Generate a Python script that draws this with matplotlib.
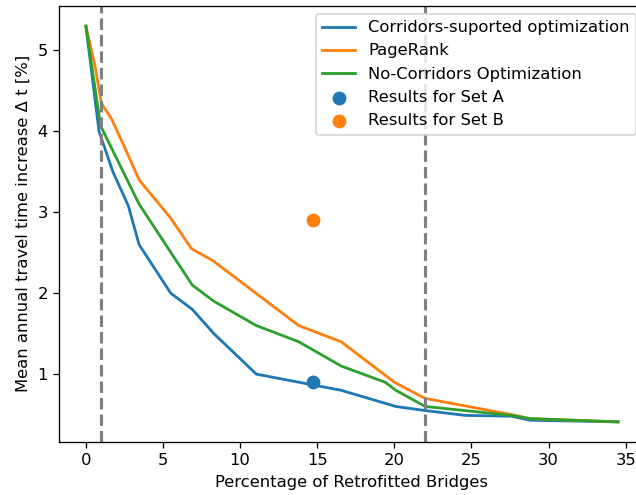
import matplotlib
matplotlib.use("Agg")
import matplotlib.pyplot as plt

# values
x_corr = [0, 0.85, 1.75, 2.75, 3.45, 5.5, 6.9, 8.3, 11.05, 16.55, 20.1, 22.0, 24.6, 27.6, 28.8, 34.5]
y_corr = [5.3, 4.0, 3.5, 3.08, 2.6, 2.0, 1.8, 1.5, 1.0, 0.8, 0.6, 0.55, 0.49, 0.48, 0.43, 0.41]

x_pr = [0, 0.6, 1.0, 1.7, 2.8, 3.45, 5.45, 6.85, 8.25, 13.8, 16.55, 20.0, 22.0, 27.6, 28.8, 34.5]
y_pr = [5.3, 4.8, 4.35, 4.14, 3.68, 3.40, 2.94, 2.55, 2.40, 1.6, 1.40, 0.9, 0.70, 0.50, 0.45, 0.41]

x_nocorr = [0, 0.95, 3.45, 6.9, 8.3, 11.05, 13.8, 16.55, 19.4, 20.1, 22.0, 27.6, 28.8, 34.5]
y_nocorr = [5.3, 4.07, 3.1, 2.1, 1.9, 1.6, 1.4, 1.1, 0.9, 0.8, 0.6, 0.49, 0.45, 0.41]

set_a = (14.7, 0.90)
set_b = (14.7, 2.90)
vlines = [1, 22]

dpi = 118
fig = plt.figure(figsize=(636 / dpi, 495 / dpi), dpi=dpi)
ax = fig.add_axes([59.3 / 636, (495 - 441.7) / 495, (644.6 - 59.3) / 636, (441.7 - 5.5) / 495])

ax.plot(x_corr, y_corr, lw=1.7, label="Corridors-suported optimization")
ax.plot(x_pr, y_pr, lw=1.7, label="PageRank")
ax.plot(x_nocorr, y_nocorr, lw=1.7, label="No-Corridors Optimization")
ax.scatter([set_a[0]], [set_a[1]], s=55, color="C0", label="Results for Set A", zorder=3)
ax.scatter([set_b[0]], [set_b[1]], s=55, color="C1", label="Results for Set B", zorder=3)
for v in vlines:
    ax.axvline(v, color="gray", linestyle="--", lw=1.9)

ax.set_xlim(-1.725, 36.225)
ax.set_ylim(0.165, 5.555)
ax.set_xticks([0, 5, 10, 15, 20, 25, 30, 35])
ax.set_xlabel("Percentage of Retrofitted Bridges")
ax.set_ylabel("Mean annual travel time increase Δ t [%]")
ax.legend(loc="upper right")

fig.savefig("out.png", dpi=dpi)
